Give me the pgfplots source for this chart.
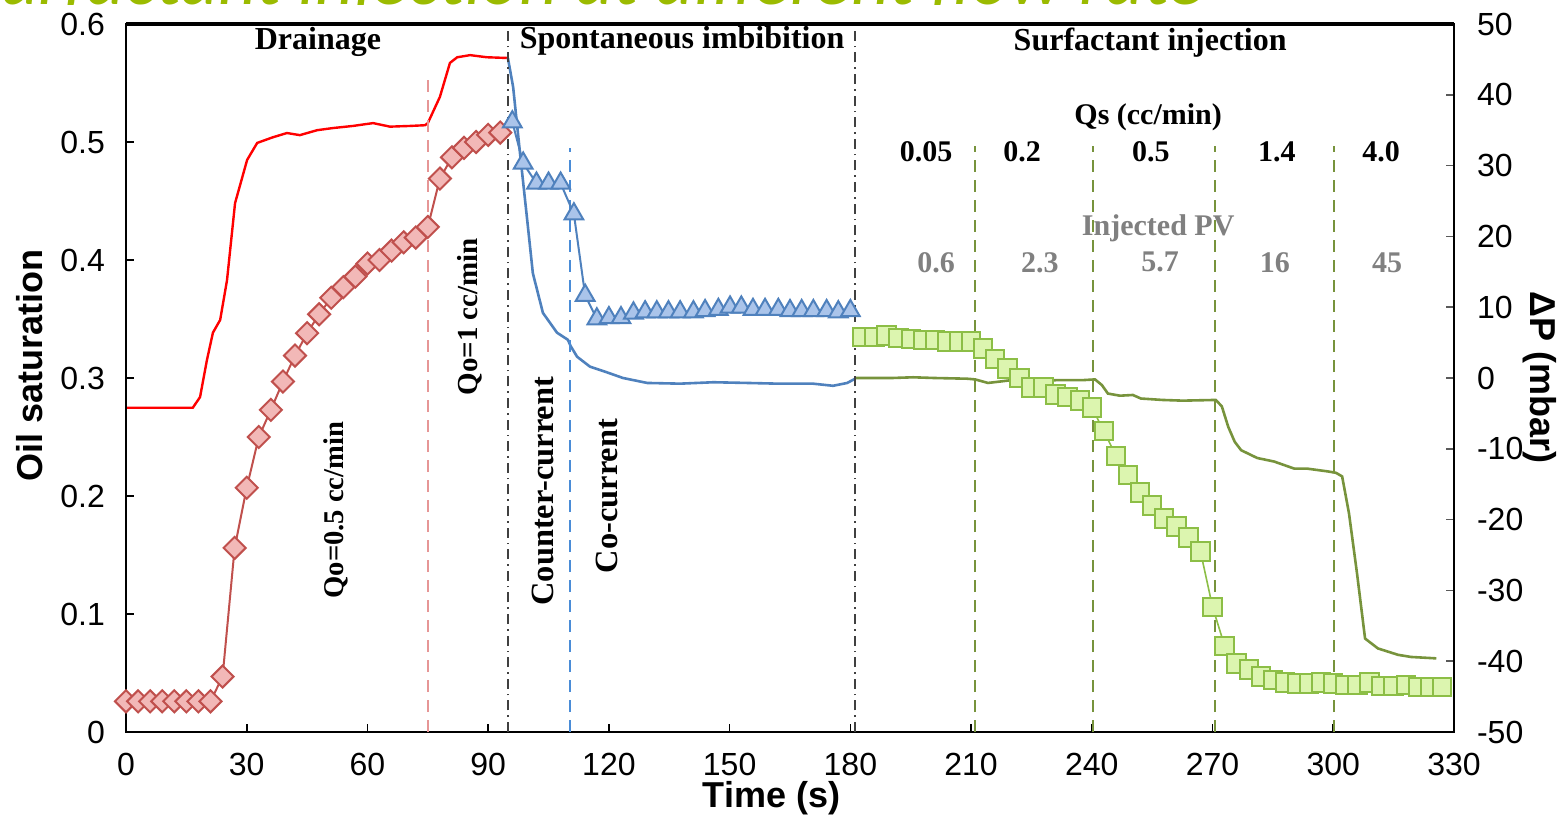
\documentclass[border=0pt]{standalone}
\usepackage{pgfplots}
\usepackage{pgfplotstable}
\pgfplotsset{compat=1.18}
\usepackage{fontspec}
\setmainfont{Liberation Sans}
\newfontfamily\tnr{Liberation Serif}
\newfontfamily\calib{Carlito}
\definecolor{redline}{RGB}{255,0,0}
\definecolor{dmdedge}{RGB}{192,80,77}
\definecolor{dmdfill}{RGB}{242,184,183}
\definecolor{blueline}{RGB}{79,129,189}
\definecolor{trifill}{RGB}{170,196,234}
\definecolor{greenline}{RGB}{119,147,60}
\definecolor{sqedge}{RGB}{140,190,70}
\definecolor{sqfill}{RGB}{220,245,175}
\definecolor{pinkdash}{RGB}{230,150,150}
\definecolor{bluedash}{RGB}{74,140,215}
\definecolor{greendash}{RGB}{119,147,60}
\definecolor{pvgray}{RGB}{128,128,128}
\definecolor{titlegreen}{RGB}{155,187,0}

% Delta P (mbar) lines
\pgfplotstableread{
t dp
0 -4.2
16.6 -4.2
18.4 -2.7
20.1 2.5
21.6 6.4
23.4 8.2
25.1 13.8
27.1 24.7
30.1 30.8
32.6 33.2
36.5 34.0
40 34.6
43.2 34.3
47.5 35.0
51.4 35.3
56.4 35.6
61.4 36.0
65.6 35.5
70.6 35.6
74.3 35.7
75 36.0
78 39.7
80.5 44.5
82.3 45.3
85.5 45.6
89.7 45.3
94.7 45.2
}\redP
\pgfplotstableread{
t dp
94.9 45.2
96.2 41.1
97.9 31.8
99.7 22.3
101.1 14.8
103.6 9.2
107.1 6.4
109.8 5.4
110.5 4.5
112.1 3.0
115.3 1.6
119.5 0.8
123.5 0
129.5 -0.7
137.7 -0.8
146 -0.6
154.3 -0.7
162 -0.8
170.7 -0.8
175.7 -1.1
179.2 -0.7
181.2 -0.1
}\blueP
\pgfplotstableread{
t dp
181.2 0
190.4 0
195.6 0.1
200.8 0
209 -0.1
211 -0.2
214.2 -0.7
217.2 -0.5
221.4 -0.2
226.4 -0.4
231.6 -0.3
237.8 -0.3
240.8 -0.2
242.5 -1.0
244 -2.2
247 -2.5
250.2 -2.4
252.2 -2.9
257.5 -3.1
262.6 -3.2
270.8 -3.1
272.3 -4.0
273.9 -6.9
275.5 -9.0
277.1 -10.2
281.1 -11.3
285.3 -11.8
290.3 -12.8
293.5 -12.8
298.7 -13.2
300.7 -13.4
302.2 -13.9
303.9 -19.1
305.9 -27.6
307.9 -36.8
311.1 -38.2
316.1 -39.1
319.3 -39.4
325.6 -39.6
}\greenP

% Oil saturation
\pgfplotstableread{
t s
0 0.026
3 0.026
6 0.026
9 0.026
12 0.026
15 0.026
18 0.026
21 0.026
24 0.047
27 0.156
30 0.207
33 0.250
36 0.273
39 0.297
42 0.319
45 0.338
48 0.354
51 0.368
54 0.377
57 0.386
60 0.397
63 0.400
66 0.408
69 0.415
72 0.419
75 0.428
78 0.469
81 0.487
84 0.495
87 0.500
90 0.506
93 0.508
}\drain
\pgfplotstableread{
t s
96 0.517
98.7 0.482
102 0.465
105 0.465
108 0.465
111.3 0.439
114.1 0.370
117 0.350
120 0.351
123 0.351
126.1 0.355
129.0 0.356
131.9 0.356
134.8 0.356
137.7 0.356
141.0 0.356
143.9 0.357
147.2 0.358
150.1 0.360
152.9 0.360
155.8 0.358
158.8 0.358
162.1 0.358
165.0 0.357
167.9 0.357
170.8 0.357
174.1 0.357
177.0 0.356
180.0 0.357
}\imbib
\pgfplotstableread{
t s
183 0.335
186 0.335
189 0.336
192 0.334
195 0.333
198 0.332
201 0.332
204 0.331
207 0.331
210 0.331
213 0.325
216 0.316
219 0.308
222 0.300
225 0.292
228 0.292
231 0.286
234 0.284
237 0.281
240 0.275
243 0.255
246 0.234
249 0.218
252 0.203
255 0.192
258 0.181
261 0.174
264 0.165
267 0.153
270 0.106
273 0.073
276 0.058
279 0.053
282 0.047
285 0.044
288 0.042
291 0.041
294 0.041
297 0.042
300 0.041
303 0.040
306 0.040
309 0.042
312 0.039
315 0.039
318 0.040
321 0.038
324 0.038
327 0.038
}\surf

\begin{document}
\begin{tikzpicture}
% right axis: Delta P
\begin{axis}[
  scale only axis, width=664pt, height=354pt,
  xmin=0, xmax=330, ymin=-50, ymax=50,
  hide x axis,
  axis y line*=right,
  axis line style={-, draw=black!65, line width=1pt},
  tick align=inside, major tick length=4pt,
  ytick={-50,-40,-30,-20,-10,0,10,20,30,40,50},
  yticklabels={-50,-40,-30,-20,-10,0,10,20,30,40,50},
  yticklabel style={font=\fontsize{16}{18}\selectfont, xshift=8pt},
  ytick style={draw=black!65, line width=0.8pt},
  clip=false]
\addplot[redline, line width=1.2pt] table[x=t,y=dp] {\redP};
\addplot[blueline, line width=1.3pt] table[x=t,y=dp] {\blueP};
\addplot[greenline, line width=1.3pt] table[x=t,y=dp] {\greenP};
\node[rotate=-90, font=\bfseries\fontsize{18}{20}\selectfont] at ([xshift=43pt]rel axis cs:1,0.501) {ΔP (mbar)};
\end{axis}

% left axis: Oil saturation
\begin{axis}[
  scale only axis, width=664pt, height=354pt,
  xmin=0, xmax=330, ymin=0, ymax=0.6,
  axis line style={line width=1.2pt},
  tick align=inside, major tick length=4pt,
  xtick pos=bottom, ytick pos=left,
  xtick={0,30,60,90,120,150,180,210,240,270,300,330},
  xticklabels={0,30,60,90,120,150,180,210,240,270,300,330},
  ytick={0,0.1,0.2,0.3,0.4,0.5,0.6},
  yticklabels={0,0.1,0.2,0.3,0.4,0.5,0.6},
  yticklabel style={font=\fontsize{16}{18}\selectfont, xshift=-7pt},
  xticklabel style={font=\fontsize{16}{18}\selectfont, yshift=-7pt},
  tick style={black, line width=0.8pt},
  clip=false]
% vertical separators
\draw[pinkdash, line width=1.2pt, dash pattern=on 6pt off 4pt] (axis cs:75,0) -- (axis cs:75,0.559);
\draw[black!75, line width=0.8pt, dash pattern=on 5pt off 2.5pt on 0.8pt off 2.5pt] (axis cs:94.9,0) -- (axis cs:94.9,0.6);
\draw[bluedash, line width=1.3pt, dash pattern=on 6pt off 4pt] (axis cs:110.3,0) -- (axis cs:110.3,0.495);
\draw[black!75, line width=0.8pt, dash pattern=on 5pt off 2.5pt on 0.8pt off 2.5pt] (axis cs:181.2,0) -- (axis cs:181.2,0.6);
\foreach \xx in {211,240.3,270.6,300.2}{
  \edef\temp{\noexpand\draw[greendash, line width=1.3pt, dash pattern=on 6pt off 4pt] (axis cs:\xx,0) -- (axis cs:\xx,0.497);}
  \temp
}
\draw[line width=2.2pt] (rel axis cs:0,1) -- (rel axis cs:1,1);

\addplot[dmdedge, line width=1pt, mark=square*, mark size=3.9pt,
  mark options={rotate=45, fill=dmdfill, draw=dmdedge, line width=1pt, solid}] table[x=t,y=s] {\drain};
\addplot[blueline, line width=1pt, mark=triangle*, mark size=5.4pt,
  mark options={fill=trifill, draw=blueline, line width=1pt, solid}] table[x=t,y=s] {\imbib};
\addplot[sqedge, line width=0.8pt, mark=square*, mark size=4.6pt,
  mark options={fill=sqfill, draw=sqedge, line width=1pt, solid}] table[x=t,y=s] {\surf};

% headings
\begin{scope}[every node/.style={font=\tnr\bfseries\fontsize{16}{18}\selectfont, inner sep=0pt}]
\node at (axis cs:47.7,0.585) {Drainage};
\node at (axis cs:138.2,0.586) {Spontaneous imbibition};
\node at (axis cs:254.5,0.584) {Surfactant injection};
\end{scope}
\begin{scope}[every node/.style={font=\tnr\bfseries\fontsize{15}{17}\selectfont, inner sep=0pt}]
\node at (axis cs:254.0,0.521) {Qs (cc/min)};
\node at (axis cs:198.8,0.492) {0.05};
\node at (axis cs:222.7,0.492) {0.2};
\node at (axis cs:254.7,0.492) {0.5};
\node at (axis cs:286.0,0.492) {1.4};
\node at (axis cs:311.9,0.492) {4.0};
\node[text=pvgray] at (axis cs:256.5,0.427) {Injected PV};
\node[text=pvgray] at (axis cs:201.3,0.398) {0.6};
\node[text=pvgray] at (axis cs:227.1,0.398) {2.3};
\node[text=pvgray] at (axis cs:257.0,0.398) {5.7};
\node[text=pvgray] at (axis cs:285.5,0.398) {16};
\node[text=pvgray] at (axis cs:313.4,0.398) {45};
\end{scope}
\begin{scope}[every node/.style={rotate=90, inner sep=0pt}]
\node[font=\tnr\bfseries\fontsize{14.3}{16}\selectfont] at (axis cs:52.2,0.188) {Qo=0.5 cc/min};
\node[font=\tnr\bfseries\fontsize{14.5}{16}\selectfont] at (axis cs:85.5,0.352) {Qo=1 cc/min};
\node[font=\tnr\bfseries\fontsize{16.2}{18}\selectfont] at (axis cs:103.6,0.204) {Counter-current};
\node[font=\tnr\bfseries\fontsize{16.2}{18}\selectfont] at (axis cs:119.5,0.200) {Co-current};
\end{scope}

% axis labels
\node[rotate=90, font=\bfseries\fontsize{18}{20}\selectfont] at ([xshift=-48pt]rel axis cs:0,0.518) {Oil saturation};
\node[font=\bfseries\fontsize{18}{20}\selectfont] at ([yshift=-33pt]rel axis cs:0.486,0) {Time (s)};
\end{axis}

% partially hidden slide title
\begin{scope}
\clip (-63pt,363.8pt) rectangle (716pt,380pt);
\node[anchor=base west, inner sep=0pt, text=titlegreen, font=\calib\itshape\fontsize{37.5}{40}\selectfont] at (-80pt,363.8pt) {Surfactant injection at different flow rate};
\end{scope}

\pgfresetboundingbox
\path[use as bounding box] (-63pt,-41pt) rectangle (716pt,366pt);
\end{tikzpicture}
\end{document}
